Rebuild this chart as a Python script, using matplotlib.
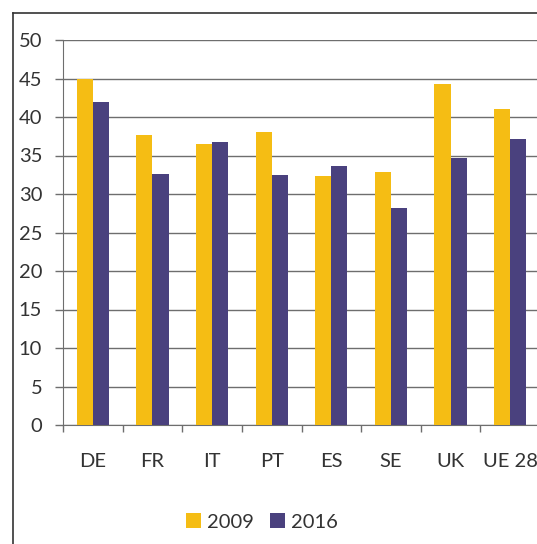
import matplotlib
matplotlib.use("Agg")
import matplotlib.pyplot as plt
import numpy as np
from matplotlib.lines import Line2D

categories = ["DE", "FR", "IT", "PT", "ES", "SE", "UK", "UE 28"]
values_2009 = [45.0, 37.7, 36.5, 38.0, 32.4, 32.8, 44.3, 41.1]
values_2016 = [42.0, 32.6, 36.7, 32.5, 33.7, 28.2, 34.7, 37.2]
series_labels = ["2009", "2016"]
yticks = [0, 5, 10, 15, 20, 25, 30, 35, 40, 45, 50]

c2009 = "#F5BD14"
c2016 = "#4A417E"

plt.rcParams['font.family'] = ['Lato', 'DejaVu Sans']

fig = plt.figure(figsize=(5.37, 5.44), dpi=100)
W, H = 537, 544
ax = fig.add_axes([63 / W, 1 - 425 / H, (540 - 63) / W, (425 - 40) / H])

x = np.arange(len(categories))
bw = 0.27
ax.bar(x - bw / 2, values_2009, bw, color=c2009, label=series_labels[0], zorder=3)
ax.bar(x + bw / 2, values_2016, bw, color=c2016, label=series_labels[1], zorder=3)

ax.set_xlim(-0.5, len(categories) - 0.5)
ax.set_ylim(0, 50)
ax.set_yticks(yticks)
ax.set_yticklabels([str(v) for v in yticks], fontsize=14.5, color="#333333")
ax.yaxis.grid(True, color="#6e6e6e", linewidth=1.0, zorder=0)
ax.set_axisbelow(True)

# category labels placed at centers, ticks at boundaries
ax.set_xticks(np.arange(len(categories) + 1) - 0.5)
ax.set_xticklabels([])
ax.set_xticks(x, minor=True)
ax.set_xticklabels(categories, minor=True, fontsize=14.5, color="#333333")
ax.tick_params(axis="x", which="minor", length=0, pad=20)
ax.tick_params(axis="x", which="major", length=5, width=1, color="#6e6e6e", direction="out")
ax.tick_params(axis="y", length=6, width=1, color="#6e6e6e", pad=9)

for s in ["top", "right"]:
    ax.spines[s].set_visible(False)
ax.spines["left"].set_color("#6e6e6e")
ax.spines["bottom"].set_color("#6e6e6e")

leg = fig.legend(loc="center", bbox_to_anchor=(262 / W, 1 - 522 / H), ncol=2,
                 frameon=False, fontsize=14.5, handlelength=0.75, handleheight=0.75,
                 handletextpad=0.3, columnspacing=0.8)
for t in leg.get_texts():
    t.set_color("#333333")

# outer chart border (cropped on right and bottom)
fig.add_artist(Line2D([13 / W, 1.0], [1 - 13 / H, 1 - 13 / H], color="#333333", linewidth=1.2, transform=fig.transFigure))
fig.add_artist(Line2D([13 / W, 13 / W], [0, 1 - 13 / H], color="#333333", linewidth=1.2, transform=fig.transFigure))

fig.savefig("out.png", dpi=100)
